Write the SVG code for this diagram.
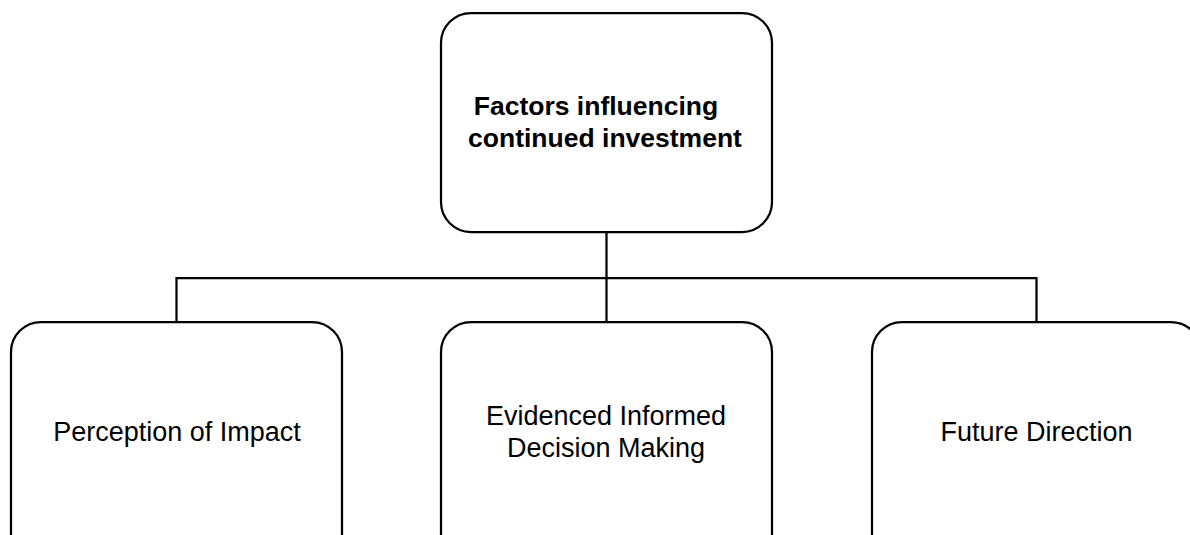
<svg xmlns="http://www.w3.org/2000/svg" width="1190" height="535" viewBox="0 0 1190 535">
<style>
.box{fill:#fff;stroke:#000;stroke-width:2.25}
.conn{fill:none;stroke:#000;stroke-width:2.25}
.t{font-family:"Liberation Sans",Arial,sans-serif;font-size:27px;fill:#000;text-anchor:middle}
.b{font-weight:bold;font-size:26.5px}
</style>
<rect width="1190" height="535" fill="#fff"/>
<g id="connectors">
<path class="conn" d="M606.5 232 V278 M176.5 322 V278 H1036.5 V322 M606.5 278 V322"/>
</g>
<g id="top">
<rect class="box" x="441" y="13" width="331" height="219" rx="30"/>
<text class="t b" x="596" y="115">Factors influencing</text>
<text class="t b" x="605" y="147">continued investment</text>
</g>
<g id="left">
<rect class="box" x="11" y="322" width="331" height="250" rx="30"/>
<text class="t" x="177" y="441">Perception of Impact</text>
</g>
<g id="middle">
<rect class="box" x="441" y="322" width="331" height="250" rx="30"/>
<text class="t" x="606" y="425">Evidenced Informed</text>
<text class="t" x="606" y="457">Decision Making</text>
</g>
<g id="right">
<rect class="box" x="872" y="322" width="329" height="250" rx="30"/>
<text class="t" x="1036.5" y="441">Future Direction</text>
</g>
</svg>
